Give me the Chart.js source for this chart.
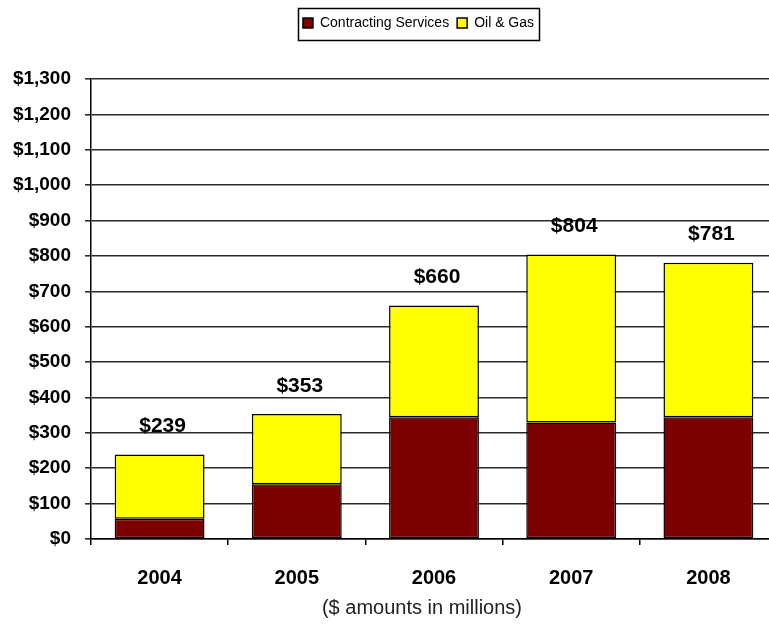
<!DOCTYPE html>
<html>
<head>
<meta charset="utf-8">
<script src="https://cdn.jsdelivr.net/npm/chart.js@4/dist/chart.umd.min.js"></script>
<style>
  html, body { margin: 0; padding: 0; background: #ffffff; overflow: hidden; }
  #wrap { position: relative; width: 769px; height: 628px; overflow: hidden; }
  #holder { position: absolute; left: 0; top: 0; width: 800px; height: 628px; }
  #note { position: absolute; left: 0; width: 844px; top: 596px; text-align: center;
          font-family: "Liberation Sans", Arial, sans-serif; font-size: 20px; color: #222; }
</style>
</head>
<body>
<div id="wrap">
  <div id="holder"><canvas id="c" width="800" height="628"></canvas></div>
  <div id="note">($ amounts in millions)</div>
</div>
<script>
const years = ['2004', '2005', '2006', '2007', '2008'];
const contracting = [57, 155, 344, 329, 344];
const oilGas = [182, 198, 316, 475, 437];
const totals = [239, 353, 660, 804, 781];
const seriesNames = ['Contracting Services', 'Oil & Gas'];
const yMax = 1300;
const yStep = 100;

const sans = '"Liberation Sans", Arial, sans-serif';

function maroonPattern() {
  const p = document.createElement('canvas');
  p.width = 4; p.height = 4;
  const g = p.getContext('2d');
  g.fillStyle = '#800000';
  g.fillRect(0, 0, 4, 4);
  g.fillStyle = '#660000';
  g.fillRect(0, 0, 1, 1);
  g.fillRect(2, 2, 1, 1);
  return g.createPattern(p, 'repeat');
}

const legendBox = {
  id: 'legendBox',
  beforeInit(chart) {
    const orig = chart.legend.fit;
    chart.legend.fit = function () { orig.call(this); this.height += 39; };
  },
  afterLayout(chart) {
    chart.legend.left += 30;
    chart.legend.right += 30;
  },
  afterDraw(chart) {
    const boxes = chart.legend.legendHitBoxes;
    if (!boxes || !boxes.length) return;
    let l = Infinity, r = -Infinity;
    boxes.forEach(b => { l = Math.min(l, b.left); r = Math.max(r, b.left + b.width); });
    const ctx = chart.ctx;
    ctx.save();
    ctx.strokeStyle = '#000';
    ctx.lineWidth = 1.5;
    ctx.strokeRect(Math.round(l) - 4.5, 8.5, Math.round(r - l) + 10, 32);
    ctx.restore();
  }
};

const totalLabels = {
  id: 'totalLabels',
  afterDatasetsDraw(chart) {
    const ctx = chart.ctx;
    const y = chart.scales.y;
    const meta = chart.getDatasetMeta(1);
    ctx.save();
    ctx.font = 'bold 21px ' + sans;
    ctx.fillStyle = '#000';
    ctx.textAlign = 'center';
    ctx.textBaseline = 'middle';
    totals.forEach((t, i) => {
      const bar = meta.data[i];
      ctx.fillText('$' + t, bar.x + 3, y.getPixelForValue(t) - 28);
    });
    ctx.restore();
  }
};

new Chart(document.getElementById('c'), {
  type: 'bar',
  data: {
    labels: years,
    datasets: [
      { label: seriesNames[0], data: contracting, backgroundColor: maroonPattern(),
        borderColor: '#000', borderWidth: 1.5, borderSkipped: false,
        barPercentage: 0.655, categoryPercentage: 1 },
      { label: seriesNames[1], data: oilGas, backgroundColor: '#ffff00',
        borderColor: '#000', borderWidth: 1.5, borderSkipped: false,
        barPercentage: 0.655, categoryPercentage: 1 }
    ]
  },
  options: {
    responsive: false,
    animation: false,
    devicePixelRatio: 1,
    layout: { padding: { top: 8, right: 23, bottom: 0, left: 0 } },
    plugins: {
      tooltip: { enabled: false },
      legend: {
        position: 'top',
        align: 'center',
        labels: {
          boxWidth: 10, boxHeight: 10, padding: 8,
          color: '#000',
          font: { family: sans, size: 14 },
          generateLabels(chart) {
            return chart.data.datasets.map((ds, i) => ({
              text: ds.label,
              fillStyle: i === 0 ? '#800000' : '#ffff00',
              strokeStyle: '#000',
              lineWidth: 1.5,
              datasetIndex: i,
              hidden: false
            }));
          }
        }
      }
    },
    scales: {
      x: {
        stacked: true,
        afterFit(scale) { scale.height = 89; },
        grid: { drawOnChartArea: false, drawTicks: true, tickLength: 6, color: '#000', lineWidth: 1.5, offset: true },
        border: { color: '#000', width: 1.5 },
        ticks: { color: '#000', padding: 21, font: { family: sans, size: 20, weight: 'bold' } }
      },
      y: {
        stacked: true,
        min: 0, max: yMax,
        afterFit(scale) { scale.width = 91; },
        grid: { color: '#2a2a2a', lineWidth: 1.6, drawTicks: true, tickLength: 6 },
        border: { color: '#000', width: 1.5 },
        ticks: {
          stepSize: yStep, color: '#000', padding: 14,
          font: { family: sans, size: 19, weight: 'bold' },
          callback: v => '$' + v.toLocaleString('en-US')
        }
      }
    }
  },
  plugins: [legendBox, totalLabels]
});
</script>
</body>
</html>
